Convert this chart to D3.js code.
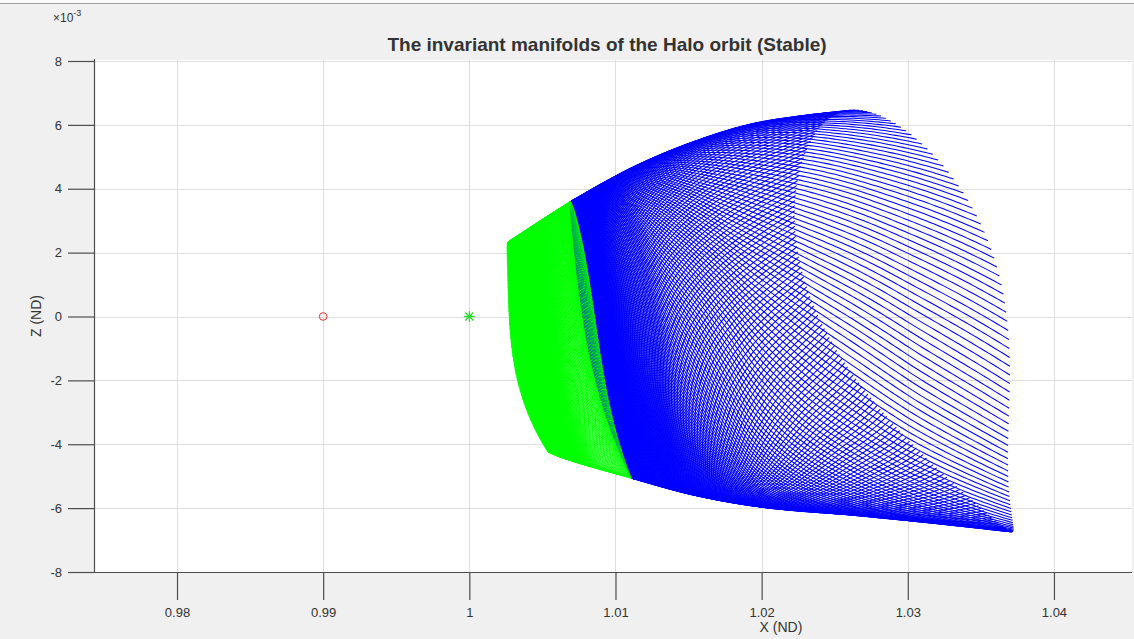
<!DOCTYPE html>
<html>
<head>
<meta charset="utf-8">
<script src="https://cdn.jsdelivr.net/npm/d3@7"></script>
<style>
  html, body { margin: 0; padding: 0; background: #f0f0f0; }
  svg { display: block; }
  text { font-family: "Liberation Sans", Arial, Helvetica, sans-serif; fill: #333; }
</style>
</head>
<body>
<svg id="chart" width="1134" height="639"></svg>
<script>
// ---------- axes ----------
const xDomain = [0.97432, 1.04534];
const zDomain = [-8, 8];                      // ×10^-3
const xTicks = [0.98, 0.99, 1.00, 1.01, 1.02, 1.03, 1.04];
const xTickLabels = ["0.98", "0.99", "1", "1.01", "1.02", "1.03", "1.04"];
const zTicks = [-8, -6, -4, -2, 0, 2, 4, 6, 8];

// ---------- reference points ----------
const circleMarker = [0.99, 0];
const starMarker = [1.00, 0];

// ---------- manifold tube ----------
// upper and lower edges of the manifold (X in ND, Z in 1e-3 ND)
const topEdgeX = [1.00264, 1.00483, 1.00689, 1.00962, 1.01304, 1.01646, 1.01989, 1.02331, 1.02638];
const topEdgeZ = [2.333, 2.991, 3.585, 4.274, 4.994, 5.589, 6.059, 6.309, 6.466];
const bottomEdgeX = [1.00538, 1.00620, 1.01079, 1.01530, 1.01989, 1.02673, 1.03152, 1.03713];
const bottomEdgeZ = [-4.242, -4.398, -5.024, -5.588, -5.964, -6.245, -6.465, -6.747];

// cross-section shape: X offset from the top-bottom chord
const sectionBulge = [-0.00133, 0.00109];               // b0 + b1*cos(theta)
const sectionHalfWidth = [0.00638, 0.00273, -0.00224];  // w0 + w1*cos + w2*cos^2

// progress along the tube (0 = far end, 1 = orbit) against accumulated phase
const sweepPhase    = [0, 0.3, 0.6, 0.9, 1.2, 1.5, 1.8, 2.2, 2.6, 3.0, 3.5, 4.0, 4.4, 5.5, 7.0, 9.0];
const sweepProgress = [0, 0.24, 0.42, 0.54, 0.61, 0.66, 0.70, 0.735, 0.765, 0.788, 0.805, 0.815, 0.82, 0.9, 0.96, 1.0];
// cross-section scaling along the tube
const shapeProgress = [0, 0.2, 0.4, 0.62, 0.72, 0.82, 1];
const widthScale    = [1, 0.95, 0.85, 0.55, 0.28, 0.065, 0.05];
const bulgeScale    = [1, 0.95, 0.85, 0.65, 0.55, 0.45, 0.6];

// orbit phase distribution of the trajectory starts
const phaseWarp = [0.25, -0.3];   // sin / cos terms
const greenFrom = 0.82;           // tube progress where the green segment begins
const trajectoryCount = 200;
const phaseStep = 0.01;

// ---------- layout ----------
const svg = d3.select("#chart");
const plot = { left: 94, right: 1132, top: 60, bottom: 572 };

const x = d3.scaleLinear().domain(xDomain).range([plot.left, plot.right]);
const y = d3.scaleLinear().domain(zDomain).range([plot.bottom, 61]);

// window frame line
svg.append("rect").attr("x", 0).attr("y", 0).attr("width", 1134).attr("height", 3).attr("fill", "#fafafa");
svg.append("line").attr("x1", 0).attr("x2", 1134).attr("y1", 3.5).attr("y2", 3.5)
  .attr("stroke", "#a0a0a0").attr("stroke-width", 1);

// plot background
svg.append("rect")
  .attr("x", plot.left).attr("y", plot.top)
  .attr("width", plot.right - plot.left).attr("height", plot.bottom - plot.top)
  .attr("fill", "#ffffff");

// grid
const grid = svg.append("g").attr("stroke", "#dedede").attr("stroke-width", 1);
xTicks.forEach(t => grid.append("line")
  .attr("x1", Math.round(x(t)) + 0.5).attr("x2", Math.round(x(t)) + 0.5)
  .attr("y1", plot.top).attr("y2", plot.bottom));
zTicks.filter(t => t > -8).forEach(t => grid.append("line")
  .attr("x1", plot.left).attr("x2", plot.right)
  .attr("y1", Math.round(y(t)) + 0.5).attr("y2", Math.round(y(t)) + 0.5));

// ---------- manifold ----------
const lerp = (xs, ys) => d3.scaleLinear().domain(xs).range(ys).clamp(true);

// monotone cubic through sampled values (smooth outline)
function monotoneCurve(xs, ys) {
  const n = xs.length, d = [], m = [];
  for (let i = 0; i < n - 1; i++) d.push((ys[i + 1] - ys[i]) / (xs[i + 1] - xs[i]));
  m.push(d[0]);
  for (let i = 1; i < n - 1; i++) m.push(d[i - 1] * d[i] <= 0 ? 0 : (d[i - 1] + d[i]) / 2);
  m.push(d[n - 2]);
  for (let i = 0; i < n - 1; i++) {
    if (d[i] === 0) { m[i] = m[i + 1] = 0; continue; }
    const a = m[i] / d[i], b = m[i + 1] / d[i], s = a * a + b * b;
    if (s > 9) { const t = 3 / Math.sqrt(s); m[i] = t * a * d[i]; m[i + 1] = t * b * d[i]; }
  }
  return v => {
    if (v <= xs[0]) return ys[0];
    if (v >= xs[n - 1]) return ys[n - 1];
    let i = d3.bisectRight(xs, v) - 1;
    const h = xs[i + 1] - xs[i], t = (v - xs[i]) / h, t2 = t * t, t3 = t2 * t;
    return (2 * t3 - 3 * t2 + 1) * ys[i] + (t3 - 2 * t2 + t) * h * m[i]
         + (-2 * t3 + 3 * t2) * ys[i + 1] + (t3 - t2) * h * m[i + 1];
  };
}

const topZ = monotoneCurve(topEdgeX, topEdgeZ);
const bottomZ = monotoneCurve(bottomEdgeX, bottomEdgeZ);
const progressAt = monotoneCurve(sweepPhase, sweepProgress);
const widthAt = monotoneCurve(shapeProgress, widthScale);
const bulgeAt = lerp(shapeProgress, bulgeScale);
const phaseAtProgress = lerp(sweepProgress, sweepPhase);

const xTop0 = topEdgeX[topEdgeX.length - 1], xTop1 = topEdgeX[0];
const xBot0 = bottomEdgeX[bottomEdgeX.length - 1], xBot1 = bottomEdgeX[0];

function tubePoint(theta0, phi) {
  const q = progressAt(phi);
  const th = theta0 - phi;
  const xT = xTop0 + q * (xTop1 - xTop0), zT = topZ(xT);
  const xB = xBot0 + q * (xBot1 - xBot0), zB = bottomZ(xB);
  const c = Math.cos(th), s = Math.sin(th);
  const z = (zT + zB) / 2 + (zT - zB) / 2 * c;
  const chord = (xT + xB) / 2 + (xT - xB) / 2 * c;
  const bulge = bulgeAt(q) * (sectionBulge[0] + sectionBulge[1] * c) * s * s;
  const half = widthAt(q) * (sectionHalfWidth[0] + sectionHalfWidth[1] * c + sectionHalfWidth[2] * c * c) * s;
  return [chord + bulge + half, z];
}

const phiEnd = sweepPhase[sweepPhase.length - 1];
const phiGreen = phaseAtProgress(greenFrom);
const steps = Math.round(phiEnd / phaseStep);

const blueTracks = [], greenTracks = [];
for (let k = 0; k < trajectoryCount; k++) {
  const u = 2 * Math.PI * k / trajectoryCount;
  const theta0 = u + phaseWarp[0] * Math.sin(u) + phaseWarp[1] * (Math.cos(u) - 1);
  const blue = [], green = [];
  for (let i = 0; i <= steps; i++) {
    const phi = phiEnd * i / steps;
    const p = tubePoint(theta0, phi);
    if (phi <= phiGreen + phaseStep) blue.push(p);
    if (phi >= phiGreen - phaseStep) green.push(p);
  }
  blueTracks.push(blue);
  greenTracks.push(green);
}

svg.append("clipPath").attr("id", "plotClip").append("rect")
  .attr("x", plot.left).attr("y", plot.top)
  .attr("width", plot.right - plot.left).attr("height", plot.bottom - plot.top);

const line = d3.line().x(d => x(d[0])).y(d => y(d[1]));
const data = svg.append("g").attr("clip-path", "url(#plotClip)");

data.append("g").selectAll("path").data(blueTracks).join("path")
  .attr("d", line).attr("fill", "none").attr("stroke", "#0000ff").attr("stroke-width", 1.05);
data.append("g").selectAll("path").data(greenTracks).join("path")
  .attr("d", line).attr("fill", "none").attr("stroke", "#00ff00").attr("stroke-width", 1.0);

// markers
data.append("circle")
  .attr("cx", x(circleMarker[0])).attr("cy", y(circleMarker[1])).attr("r", 3.8)
  .attr("fill", "none").attr("stroke", "#e03030").attr("stroke-width", 1);
const sx = x(starMarker[0]), sy = y(starMarker[1]);
const star = data.append("g").attr("stroke", "#22dd22").attr("stroke-width", 1.2);
star.append("line").attr("x1", sx - 5.5).attr("x2", sx + 5.5).attr("y1", sy).attr("y2", sy);
star.append("line").attr("x1", sx).attr("x2", sx).attr("y1", sy - 5.5).attr("y2", sy + 5.5);
star.append("line").attr("x1", sx - 4).attr("x2", sx + 4).attr("y1", sy - 4).attr("y2", sy + 4);
star.append("line").attr("x1", sx - 4).attr("x2", sx + 4).attr("y1", sy + 4).attr("y2", sy - 4);

// ---------- axes ----------
const axisColor = "#4d4d4d";
svg.append("line").attr("x1", plot.left + 0.5).attr("x2", plot.left + 0.5)
  .attr("y1", plot.top - 1).attr("y2", plot.bottom + 0.5).attr("stroke", axisColor).attr("stroke-width", 1.2);
svg.append("line").attr("x1", plot.left).attr("x2", plot.right)
  .attr("y1", plot.bottom + 0.5).attr("y2", plot.bottom + 0.5).attr("stroke", axisColor).attr("stroke-width", 1.2);

const xAxis = d3.axisBottom(x).tickValues(xTicks)
  .tickFormat((d, i) => xTickLabels[i]).tickSize(28).tickPadding(8);
const gx = svg.append("g").attr("transform", `translate(0,${plot.bottom})`).call(xAxis);
gx.select(".domain").remove();
gx.selectAll(".tick line").attr("stroke", axisColor).attr("stroke-width", 1.2);
gx.selectAll(".tick text").attr("font-size", 13).attr("fill", "#404040")
  .attr("font-family", "'Liberation Sans', Arial, sans-serif");

const yAxis = d3.axisLeft(y).tickValues(zTicks).tickFormat(d => String(d)).tickSize(26).tickPadding(6);
const gy = svg.append("g").attr("transform", `translate(${plot.left},0)`).call(yAxis);
gy.select(".domain").remove();
gy.selectAll(".tick line").attr("stroke", axisColor).attr("stroke-width", 1.2);
gy.selectAll(".tick text").attr("font-size", 13).attr("fill", "#404040")
  .attr("font-family", "'Liberation Sans', Arial, sans-serif");

// exponent label
const expo = svg.append("text").attr("x", 53).attr("y", 22).attr("font-size", 12).attr("fill", "#404040");
expo.append("tspan").text("\u00d710");
expo.append("tspan").attr("dy", -6).attr("font-size", 9).text("-3");

// title and axis labels
svg.append("text").attr("x", 607).attr("y", 51).attr("text-anchor", "middle")
  .attr("font-size", 19).attr("font-weight", "bold").attr("fill", "#000")
  .text("The invariant manifolds of the Halo orbit (Stable)");
svg.append("text").attr("x", 781).attr("y", 632).attr("text-anchor", "middle")
  .attr("font-size", 14).attr("fill", "#262626").text("X (ND)");
svg.append("text").attr("transform", "translate(41,316) rotate(-90)").attr("text-anchor", "middle")
  .attr("font-size", 14).attr("fill", "#262626").text("Z (ND)");
</script>
</body>
</html>
